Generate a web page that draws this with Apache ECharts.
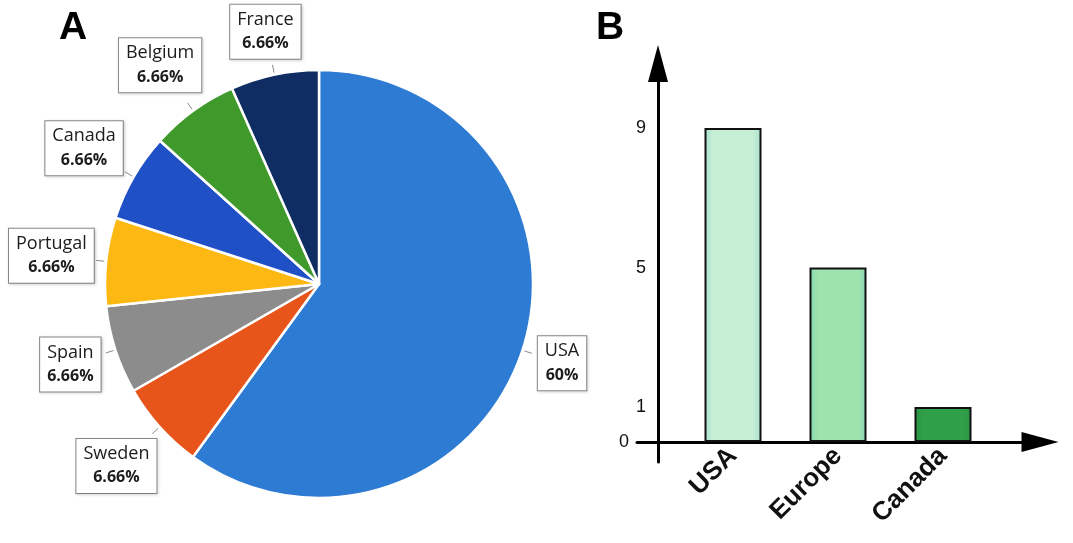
<!DOCTYPE html>
<html><head><meta charset="utf-8">
<script src="https://cdn.jsdelivr.net/npm/echarts@6/dist/echarts.min.js"></script>
<style>html,body{margin:0;padding:0;background:#fff}#c{width:1073px;height:543px}</style>
</head><body><div id="c"></div>
<script>
// ---- data ----
const pieNames = ['USA', 'Sweden', 'Spain', 'Portugal', 'Canada', 'Belgium', 'France'];
const pieValues = [60, 6.66, 6.66, 6.66, 6.66, 6.66, 6.66];
const pieLabels = ['60%', '6.66%', '6.66%', '6.66%', '6.66%', '6.66%', '6.66%'];
const pieColors = ['#2E7BD3', '#E8551B', '#8C8C8C', '#FDB813', '#2050C6', '#3F9A2B', '#0F2D62'];
const barCategories = ['USA', 'Europe', 'Canada'];
const barValues = [9, 5, 1];
const barColors = ['#C6EFD6', '#9EE3AE', '#2F9F4A'];
const barEdgeColors = ['#A6E0CF', '#86D7B3', '#2A9445'];
const yTickValues = [0, 1, 5, 9];

// ---- layout ----
const PIE_C = [319, 284], PIE_R = 214;
const Y_AXIS_X = 658, X_AXIS_Y = 442, PX_PER_UNIT = (442 - 128) / 9;
const G_TOP = 63.5, G_BOT_EXT = 462, G_LEFT_EXT = 637, G_RIGHT_END = 1040;
const yMax = (X_AXIS_Y - G_TOP) / PX_PER_UNIT;
const yMinExt = -(G_BOT_EXT - X_AXIS_Y) / PX_PER_UNIT;

const total = pieValues.reduce((a, b) => a + b, 0);
const cum = [];
pieValues.reduce((acc, v, i) => { cum[i] = acc; return acc + v; }, 0);

const chart = echarts.init(document.getElementById('c'), null, {renderer: 'canvas'});

const pieData = pieNames.map((n, i) => ({
  name: n, value: pieValues[i], itemStyle: {color: pieColors[i]}
}));

const barData = barValues.map((v, i) => ({
  value: v,
  itemStyle: {
    color: {type: 'linear', x: 0, y: 0, x2: 1, y2: 0, colorStops: [
      {offset: 0, color: barEdgeColors[i]}, {offset: 0.15, color: barColors[i]},
      {offset: 0.85, color: barColors[i]}, {offset: 1, color: barEdgeColors[i]}]}
  }
}));

const option = {
  backgroundColor: '#fff',
  animation: false,
  graphic: [
    {type: 'text', left: 59, top: 9, style: {text: 'A', font: 'bold 39px Arial, "Liberation Sans"', fill: '#000'}},
    {type: 'text', left: 596, top: 9, style: {text: 'B', font: 'bold 39px Arial, "Liberation Sans"', fill: '#000'}}
  ],
  grid: [
    {left: 680.5, right: 1073 - 995.5, top: G_TOP, bottom: 543 - X_AXIS_Y},
    {left: G_LEFT_EXT, right: 1073 - G_RIGHT_END, top: G_TOP, bottom: 543 - G_BOT_EXT}
  ],
  xAxis: [
    {type: 'category', gridIndex: 0, data: barCategories,
     axisLine: {show: false}, axisTick: {show: false},
     axisLabel: {rotate: 45, margin: 10, color: '#111', fontFamily: 'Arial, "Liberation Sans"', fontWeight: 'bold', fontSize: 26}},
    {type: 'value', gridIndex: 1, min: G_LEFT_EXT - Y_AXIS_X, max: G_RIGHT_END - Y_AXIS_X,
     splitLine: {show: false}, axisTick: {show: false}, axisLabel: {show: false},
     axisLine: {onZero: true, lineStyle: {color: '#000', width: 3}, symbol: ['none', 'triangle'], symbolSize: [20, 37]}}
  ],
  yAxis: [
    {type: 'value', gridIndex: 0, min: 0, max: yMax, show: false, splitLine: {show: false}},
    {type: 'value', gridIndex: 1, min: yMinExt, max: yMax,
     splitLine: {show: false}, axisTick: {show: false},
     axisLine: {onZero: true, lineStyle: {color: '#000', width: 3}, symbol: ['none', 'triangle'], symbolSize: [20, 37]},
     axisLabel: {customValues: yTickValues, margin: -9, color: '#111', fontFamily: 'Arial, "Liberation Sans"', fontSize: 18,
       formatter: v => v === 0 ? '{z|0}' : String(v),
       rich: {z: {fontFamily: 'Arial, "Liberation Sans"', fontSize: 18, color: '#111', padding: [0, 17, 0, 0]}}}}
  ],
  series: [
    {
      type: 'pie', center: PIE_C, radius: PIE_R, startAngle: 90, clockwise: true,
      avoidLabelOverlap: false,
      itemStyle: {borderColor: '#fff', borderWidth: 2.5},
      data: pieData,
      label: {
        show: true, position: 'outside',
        formatter: p => '{n|' + p.name + '}\n{v|' + pieLabels[p.dataIndex] + '}',
        backgroundColor: '#fff', borderColor: '#8a8a8a', borderWidth: 1,
        padding: [3, 7, 3, 7],
        shadowColor: 'rgba(0,0,0,0.15)', shadowBlur: 3, shadowOffsetX: 1, shadowOffsetY: 1,
        rich: {
          n: {fontFamily: '"Open Sans"', fontSize: 18, color: '#1c1c1c', lineHeight: 24, align: 'center'},
          v: {fontFamily: '"Open Sans"', fontWeight: 'bold', fontSize: 16, color: '#1c1c1c', lineHeight: 24, align: 'center'}
        }
      },
      labelLine: {show: true, length: 10, length2: 0, lineStyle: {color: '#8a8a8a', width: 1}},
      labelLayout: function (params) {
        const i = params.dataIndex;
        const th = (cum[i] + pieValues[i] / 2) / total * Math.PI * 2;
        const dx = Math.sin(th), dy = -Math.cos(th);
        const w = params.labelRect.width, h = params.labelRect.height;
        const gap = 9;
        const k = Math.abs(dx) * w / 2 + Math.abs(dy) * h / 2 + gap;
        const r = PIE_R + k;
        return {
          x: PIE_C[0] + dx * r, y: PIE_C[1] + dy * r, align: 'center', verticalAlign: 'middle',
          labelLinePoints: [
            [PIE_C[0] + dx * (PIE_R + 2), PIE_C[1] + dy * (PIE_R + 2)],
            [PIE_C[0] + dx * (PIE_R + gap + 1), PIE_C[1] + dy * (PIE_R + gap + 1)],
            [PIE_C[0] + dx * (PIE_R + gap + 1), PIE_C[1] + dy * (PIE_R + gap + 1)]
          ]
        };
      }
    },
    {
      type: 'bar', xAxisIndex: 0, yAxisIndex: 0, data: barData, barWidth: 57,
      itemStyle: {borderColor: '#111', borderWidth: 2}
    }
  ]
};
chart.setOption(option);
</script>
</body></html>
